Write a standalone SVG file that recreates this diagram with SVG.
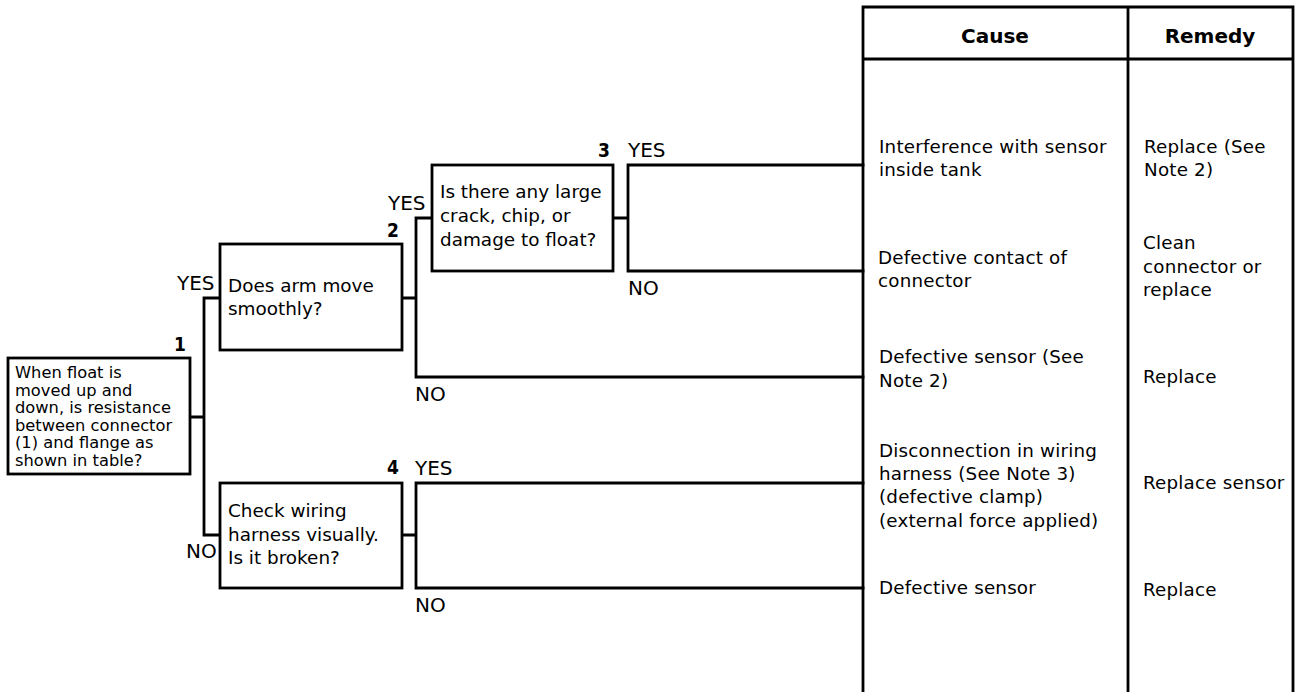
<svg xmlns="http://www.w3.org/2000/svg" width="1295" height="692" viewBox="0 0 1295 692">
<style>
.ln{fill:none;stroke:#000;stroke-width:2.8;stroke-linecap:square}
.bx{fill:#fff;stroke:#000;stroke-width:2.8}
.t{font-family:"DejaVu Sans",sans-serif;font-size:18.4px;fill:#000}
.t1{font-family:"DejaVu Sans",sans-serif;font-size:16.3px;fill:#000}
.yn{font-family:"DejaVu Sans",sans-serif;font-size:20px;fill:#000}
.num{font-family:"DejaVu Sans Condensed","DejaVu Sans",sans-serif;font-weight:bold;font-size:19px;fill:#000;text-anchor:end}
.hd{font-family:"DejaVu Sans",sans-serif;font-weight:bold;font-size:20px;fill:#000;text-anchor:middle}
.tb{font-family:"DejaVu Sans",sans-serif;font-size:18.3px;fill:#000;letter-spacing:0.2px}
</style>
<rect width="1295" height="692" fill="#fff"/>
<g id="connectors">
<path class="ln" d="M190,417 H204 M204,298 V535 M204,298 H220 M204,535 H220"/>
<path class="ln" d="M402,298 H416 M416,218 V377 M416,218 H432 M416,377 H863"/>
<path class="ln" d="M613,218 H628 M628,165 V271 M628,165 H863 M628,271 H863"/>
<path class="ln" d="M402,535 H416 M416,483 V588 M416,483 H863 M416,588 H863"/>
</g>
<g id="labels">
<text class="yn" x="177" y="290">YES</text>
<text class="yn" x="186" y="558">NO</text>
<text class="yn" x="388" y="210">YES</text>
<text class="yn" x="628" y="157">YES</text>
<text class="yn" x="628" y="295">NO</text>
<text class="yn" x="415" y="401">NO</text>
<text class="yn" x="415" y="475">YES</text>
<text class="yn" x="415" y="612">NO</text>
</g>
<g id="node1">
<rect class="bx" x="8" y="358" width="182" height="116"/>
<text class="num" x="186" y="351">1</text>
<text class="t1" x="15" y="378">When float is</text>
<text class="t1" x="15" y="395.5">moved up and</text>
<text class="t1" x="15" y="413">down, is resistance</text>
<text class="t1" x="15" y="430.5">between connector</text>
<text class="t1" x="15" y="448">(1) and flange as</text>
<text class="t1" x="15" y="465.5">shown in table?</text>
</g>
<g id="node2">
<rect class="bx" x="220" y="244" width="182" height="106"/>
<text class="num" x="399" y="237">2</text>
<text class="t" x="228" y="292">Does arm move</text>
<text class="t" x="228" y="315">smoothly?</text>
</g>
<g id="node3">
<rect class="bx" x="432" y="165" width="181" height="106"/>
<text class="num" x="610" y="157">3</text>
<text class="t" x="440" y="198">Is there any large</text>
<text class="t" x="440" y="222">crack, chip, or</text>
<text class="t" x="440" y="246">damage to float?</text>
</g>
<g id="node4">
<rect class="bx" x="220" y="483" width="182" height="105"/>
<text class="num" x="399" y="474">4</text>
<text class="t" x="228" y="517">Check wiring</text>
<text class="t" x="228" y="541">harness visually.</text>
<text class="t" x="228" y="564">Is it broken?</text>
</g>
<g id="table">
<path class="ln" d="M863,700 V7 H1293 V700 M1128,7 V700 M863,59 H1293" stroke-linecap="butt"/>
<text class="hd" x="995" y="43">Cause</text>
<text class="hd" x="1210" y="43">Remedy</text>
<text class="tb" x="879" y="153">Interference with sensor</text>
<text class="tb" x="879" y="176">inside tank</text>
<text class="tb" x="1144" y="153">Replace (See</text>
<text class="tb" x="1144" y="176">Note 2)</text>
<text class="tb" x="878" y="264">Defective contact of</text>
<text class="tb" x="878" y="287">connector</text>
<text class="tb" x="1143" y="249">Clean</text>
<text class="tb" x="1143" y="273">connector or</text>
<text class="tb" x="1143" y="296">replace</text>
<text class="tb" x="879" y="363">Defective sensor (See</text>
<text class="tb" x="879" y="387">Note 2)</text>
<text class="tb" x="1143" y="383">Replace</text>
<text class="tb" x="879" y="457">Disconnection in wiring</text>
<text class="tb" x="879" y="480">harness (See Note 3)</text>
<text class="tb" x="879" y="503">(defective clamp)</text>
<text class="tb" x="879" y="527">(external force applied)</text>
<text class="tb" x="1143" y="489">Replace sensor</text>
<text class="tb" x="879" y="594">Defective sensor</text>
<text class="tb" x="1143" y="596">Replace</text>
</g>
</svg>
